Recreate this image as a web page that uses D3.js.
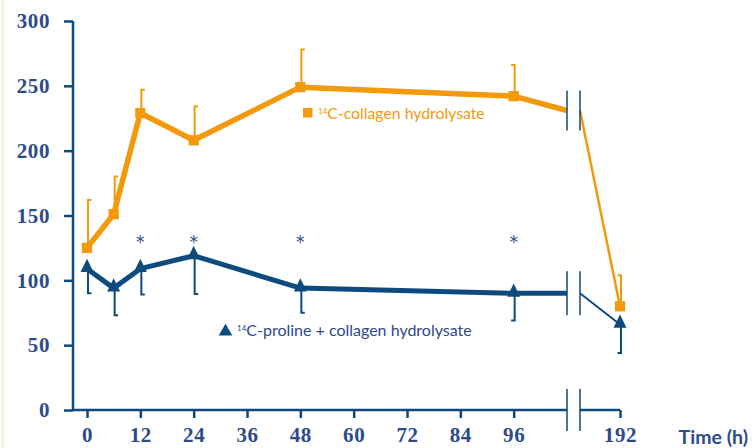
<!DOCTYPE html>
<html><head><meta charset="utf-8">
<script src="https://cdn.jsdelivr.net/npm/d3@7"></script>
<style>
html,body{margin:0;padding:0;background:#fff;}
svg{display:block;}
</style></head>
<body>
<svg id="c" width="752" height="448"></svg>
<script>
// ---- data ----
const times = [0, 6, 12, 24, 48, 96];
const collagen = [125, 151, 229, 208, 249, 242];
const collagenErrTop = [162, 180, 247, 234, 278, 266];
const proline = [109, 94, 109, 119, 94, 90];
const prolineErrBottom = [90, 73, 89, 89.5, 75, 69];
const lateTime = 192;
const collagenLate = 80, collagenLateErr = 104;
const prolineLate = 66, prolineLateErr = 44;
const breakStart = 108, breakEnd = 180;
const collagenAtBreak = 231, prolineAtBreak = 90;
const starTimes = [12, 24, 48, 96];
const starLevel = 134;
const yTicks = [0, 50, 100, 150, 200, 250, 300];
const xTicks = [0, 12, 24, 36, 48, 60, 72, 84, 96];
const legendCollagen = "C-collagen hydrolysate";
const legendProline = "C-proline + collagen hydrolysate";

// ---- styles ----
const ORANGE = "#f29a0c", BLUE = "#0d4a7e", TXT = "#2c4a8c";
const svg = d3.select("#c");

svg.append("rect").attr("x", 2).attr("y", 0).attr("width", 1.5).attr("height", 448).attr("fill", "#f9e6c6");

const x = d3.scaleLinear().domain([0, breakStart, breakEnd, lateTime]).range([87, 567, 580, 620]);
const y = d3.scaleLinear().domain([0, 300]).range([410, 21]);

// y axis
const yAxis = svg.append("g").attr("transform", "translate(73,0)")
  .call(d3.axisLeft(y).tickValues(yTicks).tickSize(9).tickPadding(14));
yAxis.select(".domain").attr("d", `M0,${y(300)}V${y(0)}`);
// x axis
const xAxis = svg.append("g").attr("transform", `translate(0,${y(0)})`)
  .call(d3.axisBottom(x).tickValues(xTicks.concat([lateTime])).tickSize(8).tickPadding(10).tickFormat(d3.format("d")));
xAxis.select(".domain").attr("d", `M73,0H${x(breakStart)}M${x(breakEnd)},0H${x(lateTime)}`);
[yAxis, xAxis].forEach(a => {
  a.selectAll(".domain,.tick line").attr("stroke", BLUE).attr("stroke-width", 2.5);
  a.selectAll("text").attr("fill", TXT).attr("font-family", "'Liberation Serif', serif")
   .attr("font-weight", "bold").attr("font-size", 21).attr("letter-spacing", 0.6);
});
xAxis.selectAll("text").attr("dy", "0.68em");

svg.append("text").attr("x", 748).attr("y", 444).attr("text-anchor", "end")
  .attr("fill", TXT).attr("font-family", "Lato, sans-serif").attr("font-weight", "bold")
  .attr("font-size", 19.5).text("Time (h)");

const line = d3.line().x(d => x(d[0])).y(d => y(d[1]));

// error bars
function errBar(t, v, e, color, dir) {
  const cx = x(t) + 1;
  svg.append("path").attr("fill", "none").attr("stroke", color).attr("stroke-width", 2)
    .attr("d", `M${cx},${y(v)}V${y(e)}h${dir * 3.5}`);
}
times.forEach((t, i) => {
  errBar(t, collagen[i], collagenErrTop[i], ORANGE, t >= 96 ? -1 : 1);
  errBar(t, proline[i], prolineErrBottom[i], BLUE, t >= 96 ? -1 : 1);
});
errBar(lateTime, collagenLate, collagenLateErr, ORANGE, -1);
errBar(lateTime, prolineLate, prolineLateErr, BLUE, -1);

// lines
const colMain = times.map((t, i) => [t, collagen[i]]).concat([[breakStart, collagenAtBreak]]);
const proMain = times.map((t, i) => [t, proline[i]]).concat([[breakStart, prolineAtBreak]]);
svg.append("path").attr("d", line(colMain)).attr("fill", "none").attr("stroke", ORANGE).attr("stroke-width", 5.5).attr("stroke-linejoin", "round");
svg.append("path").attr("d", line([[breakEnd, collagenAtBreak], [lateTime, collagenLate]])).attr("fill", "none").attr("stroke", ORANGE).attr("stroke-width", 2.5);
svg.append("path").attr("d", line(proMain)).attr("fill", "none").attr("stroke", BLUE).attr("stroke-width", 5).attr("stroke-linejoin", "round");
svg.append("path").attr("d", line([[breakEnd, prolineAtBreak], [lateTime, prolineLate]])).attr("fill", "none").attr("stroke", BLUE).attr("stroke-width", 2);

// markers
const sq = d3.symbol().type(d3.symbolSquare).size(105);
const tri = d3.symbol().type(d3.symbolTriangle).size(85);
times.map((t, i) => [t, collagen[i]]).concat([[lateTime, collagenLate]]).forEach(d => {
  svg.append("path").attr("d", sq()).attr("fill", ORANGE).attr("transform", `translate(${x(d[0])},${y(d[1])})`);
});
times.map((t, i) => [t, proline[i]]).concat([[lateTime, prolineLate]]).forEach(d => {
  svg.append("path").attr("d", tri()).attr("fill", BLUE).attr("transform", `translate(${x(d[0])},${y(d[1]) - 1}) scale(0.92,1.1)`);
});

// break marks
function breakMarks(v, h) {
  [breakStart, breakEnd].forEach(t => {
    svg.append("line").attr("x1", x(t)).attr("x2", x(t)).attr("y1", y(v) - h).attr("y2", y(v) + h)
      .attr("stroke", BLUE).attr("stroke-width", 1.5);
  });
}
breakMarks(collagenAtBreak, 20);
breakMarks(prolineAtBreak, 22);
breakMarks(0, 21);

// asterisks
starTimes.forEach(t => {
  svg.append("text").attr("x", x(t)).attr("y", y(starLevel) + 12).attr("text-anchor", "middle")
    .attr("fill", TXT).attr("font-family", "'DejaVu Sans', sans-serif").attr("font-size", 17).text("*");
});

// legends
svg.append("rect").attr("x", 303).attr("y", 108).attr("width", 9.5).attr("height", 9.5).attr("fill", ORANGE);
const t1 = svg.append("text").attr("x", 318).attr("y", 119).attr("fill", ORANGE)
  .attr("font-family", "Lato, sans-serif").attr("font-size", 15.8);
t1.append("tspan").attr("font-size", 8).attr("dy", -5).text("14");
t1.append("tspan").attr("dy", 5).text(legendCollagen);

svg.append("path").attr("d", d3.symbol().type(d3.symbolTriangle).size(80)()).attr("fill", BLUE)
  .attr("transform", "translate(225.5,331.5)");
const t2 = svg.append("text").attr("x", 237).attr("y", 336).attr("fill", TXT)
  .attr("font-family", "Lato, sans-serif").attr("font-size", 16);
t2.append("tspan").attr("font-size", 8).attr("dy", -5).text("14");
t2.append("tspan").attr("dy", 5).text(legendProline);
</script>
</body></html>
